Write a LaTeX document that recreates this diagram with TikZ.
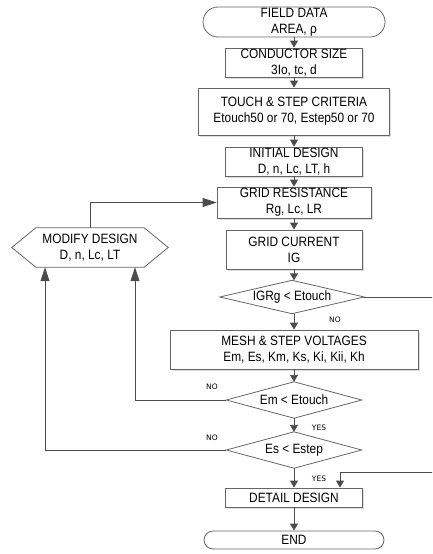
\documentclass[tikz,border=0pt]{standalone}
\usepackage{fontspec}
\setmainfont{Liberation Sans}[FakeStretch=0.88]
\newfontfamily\lblfont{DejaVu Sans}
\usetikzlibrary{arrows.meta,shadows}
\begin{document}
\begin{tikzpicture}[x=1pt,y=-1pt,
  every node/.style={font=\fontsize{13.5}{16}\selectfont, align=center, inner sep=0pt, text=black},
  proc/.style={rectangle, draw=black!60, line width=0.8pt, fill=white,
    general shadow={fill=black!13, shadow xshift=1.5pt, shadow yshift=-1.5pt}},
  term/.style={rectangle, draw=black!60, line width=0.8pt, fill=white},
  hole/.style={rectangle},
  outline/.style={draw=black!60, line width=0.8pt, fill=white},
  conn/.style={draw=black!70, line width=0.9pt, -{Triangle[width=8pt,length=7pt]}},
  connlong/.style={draw=black!70, line width=0.9pt, -{Triangle[width=9pt,length=14pt]}},
  lbl/.style={font=\lblfont\fontsize{7.5}{9}\selectfont}
]
\clip (0,0) rectangle (432,554);

% main column
\node[term, rounded corners=15pt, minimum width=182pt, minimum height=30pt] (field) at (294,22) {FIELD DATA\\AREA, ρ};
\node[proc, minimum width=137pt, minimum height=29pt] (cond) at (294,62.5) {CONDUCTOR SIZE\\3Io, tc, d};
\node[proc, minimum width=191pt, minimum height=47pt] (touch) at (294,111.5) {TOUCH \& STEP CRITERIA\\Etouch50 or 70, Estep50 or 70};
\node[proc, minimum width=137pt, minimum height=29pt] (init) at (294,161.5) {INITIAL DESIGN\\D, n, Lc, LT, h};
\node[proc, minimum width=154pt, minimum height=31pt] (gres) at (294,202.5) {GRID RESISTANCE\\Rg, Lc, LR};
\node[proc, minimum width=136pt, minimum height=39pt] (gcur) at (294,249.5) {GRID CURRENT\\IG};

\node[hole, minimum width=144pt, minimum height=33pt] (d1) at (292,297) {};
\path[outline] (d1.north) -- (d1.east) -- (d1.south) -- (d1.west) -- cycle;
\node at (d1) {IGRg < Etouch};

\node[proc, minimum width=248pt, minimum height=39pt] (mesh) at (294,349.5) {MESH \& STEP VOLTAGES\\Em, Es, Km, Ks, Ki, Kii, Kh};

\node[hole, minimum width=135pt, minimum height=36pt] (d2) at (294,400) {};
\path[outline] (d2.north) -- (d2.east) -- (d2.south) -- (d2.west) -- cycle;
\node at (d2) {Em < Etouch};

\node[hole, minimum width=135pt, minimum height=36pt] (d3) at (294,450) {};
\path[outline] (d3.north) -- (d3.east) -- (d3.south) -- (d3.west) -- cycle;
\node at (d3) {Es < Estep};

\node[proc, minimum width=137pt, minimum height=19pt] (detail) at (294,497.5) {DETAIL DESIGN};
\node[term, rounded corners=9pt, minimum width=180pt, minimum height=18pt] (end) at (294,540) {END};

% modify design hexagon
\node[hole, minimum width=108pt, minimum height=39pt] (mod) at (90,247.5) {};
\path[outline] (mod.north west) -- (mod.north east) -- ([xshift=24pt]mod.east) -- (mod.south east)
  -- (mod.south west) -- ([xshift=-24pt]mod.west) -- cycle;
\node at (mod) {MODIFY DESIGN\\D, n, Lc, LT};

% main connectors
\draw[conn] (field) -- (cond);
\draw[conn] (cond) -- (touch);
\draw[conn] (touch) -- (init);
\draw[conn] (init) -- (gres);
\draw[conn] (gres) -- (gcur);
\draw[conn] (gcur.south) -- (gcur.south |- d1.north);
\draw[conn] (d1.south -| mesh.north) -- (mesh.north);
\draw[conn] (mesh.south) -- (d2.north);
\draw[conn] (d2.south) -- (d3.north);
\draw[conn] (d3.south) -- (detail.north);
\draw[conn] (detail) -- (end);

% loops
\coordinate (rt) at (445,297);
\coordinate (rb) at (340,472);
\draw[conn] (d1.east) -- (rt) |- (rb) -- (rb |- detail.north);
\draw[connlong] (d2.west) -| ([xshift=45pt]mod.south);
\draw[connlong] (d3.west) -| ([xshift=-45pt]mod.south);
\draw[connlong] (mod.north) |- (gres.west);

% labels
\node[lbl] (no1) at (335,320) {NO};
\node[lbl] (no2) at (212,387) {NO};
\node[lbl] (no3) at (212,438) {NO};
\node[lbl] (yes1) at (319,428) {YES};
\node[lbl] (yes2) at (319,479) {YES};
\end{tikzpicture}
\end{document}
